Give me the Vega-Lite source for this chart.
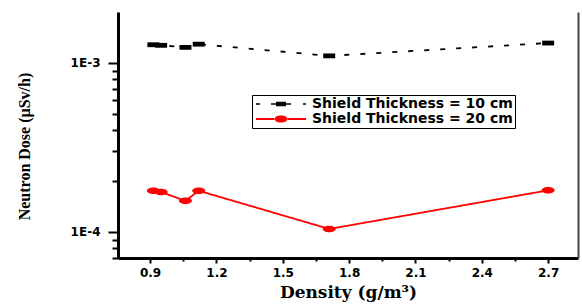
{
  "$schema": "https://vega.github.io/schema/vega-lite/v6.json",
  "width": 460,
  "height": 246,
  "autosize": {"type": "none"},
  "padding": {"left": 118, "top": 12, "right": 4, "bottom": 46},
  "background": "white",
  "config": {"view": {"stroke": null}},
  "data": {
    "values": [
      {"density": 0.915, "dose": 0.00128, "series": "Shield Thickness = 10 cm"},
      {"density": 0.95, "dose": 0.00127, "series": "Shield Thickness = 10 cm"},
      {"density": 1.06, "dose": 0.001235, "series": "Shield Thickness = 10 cm"},
      {"density": 1.12, "dose": 0.00129, "series": "Shield Thickness = 10 cm"},
      {"density": 1.71, "dose": 0.0011, "series": "Shield Thickness = 10 cm"},
      {"density": 2.7, "dose": 0.00131, "series": "Shield Thickness = 10 cm"},
      {"density": 0.915, "dose": 0.000175, "series": "Shield Thickness = 20 cm"},
      {"density": 0.95, "dose": 0.000172, "series": "Shield Thickness = 20 cm"},
      {"density": 1.06, "dose": 0.0001525, "series": "Shield Thickness = 20 cm"},
      {"density": 1.12, "dose": 0.000175, "series": "Shield Thickness = 20 cm"},
      {"density": 1.71, "dose": 0.000104, "series": "Shield Thickness = 20 cm"},
      {"density": 2.7, "dose": 0.000176, "series": "Shield Thickness = 20 cm"}
    ]
  },
  "encoding": {
    "x": {
      "field": "density",
      "type": "quantitative",
      "scale": {"domain": [0.755, 2.835], "nice": false, "zero": false},
      "axis": {
        "title": "Density (g/m³)",
        "titleFont": "DejaVu Serif",
        "titleFontWeight": "bold",
        "titleFontSize": 17,
        "titleColor": "#000",
        "titleBaseline": "middle",
        "titleY": 34,
        "values": [0.9, 1.05, 1.2, 1.35, 1.5, 1.65, 1.8, 1.95, 2.1, 2.25, 2.4, 2.55, 2.7],
        "labelExpr": "round(datum.value*100) % 30 == 0 ? format(datum.value, '.1f') : ''",
        "labelFont": "DejaVu Sans",
        "labelFontWeight": "bold",
        "labelFontSize": 12,
        "labelColor": "#000",
        "labelPadding": 4,
        "labelFlush": false,
        "labelOverlap": false,
        "domainColor": "#000",
        "domainWidth": 3,
        "tickColor": "#000",
        "tickWidth": 2,
        "tickSize": {"condition": {"test": "round(datum.value*100) % 30 == 0", "value": 5}, "value": 3},
        "grid": false
      }
    },
    "y": {
      "field": "dose",
      "type": "quantitative",
      "scale": {"type": "log", "domain": [0.00007, 0.002], "nice": false}
    }
  },
  "layer": [
    {
      "mark": {"type": "line", "strokeWidth": 1.8},
      "encoding": {
        "color": {
          "field": "series",
          "type": "nominal",
          "scale": {"domain": ["Shield Thickness = 10 cm", "Shield Thickness = 20 cm"], "range": ["#000000", "#ff0000"]},
          "legend": null
        },
        "strokeDash": {
          "field": "series",
          "type": "nominal",
          "scale": {"domain": ["Shield Thickness = 10 cm", "Shield Thickness = 20 cm"], "range": [[5, 11], [1, 0]]},
          "legend": null
        },
        "y": {
          "field": "dose",
          "type": "quantitative",
          "scale": {"type": "log", "domain": [0.00007, 0.002], "nice": false},
          "axis": {
            "orient": "left",
            "title": "Neutron Dose (µSv/h)",
            "titleFont": "Liberation Serif",
            "titleFontWeight": "bold",
            "titleFontSize": 16,
            "titleColor": "#000",
            "titleAngle": -90,
            "titleAlign": "center",
            "titleBaseline": "middle",
            "titleX": -94,
            "titleY": 134,
            "values": [0.00007, 0.00008, 0.00009, 0.0001, 0.0002, 0.0003, 0.0004, 0.0005, 0.0006, 0.0007, 0.0008, 0.0009, 0.001],
            "labelExpr": "abs(log(datum.value)/LN10 - round(log(datum.value)/LN10)) < 0.01 ? '1E' + round(log(datum.value)/LN10) : ''",
            "labelFont": "DejaVu Sans",
            "labelFontWeight": "bold",
            "labelFontSize": 12,
            "labelColor": "#000",
            "labelPadding": 8,
            "labelOverlap": false,
            "labelFlush": false,
            "domainColor": "#000",
            "domainWidth": 3,
            "tickColor": "#000",
            "tickWidth": 2,
            "tickSize": {"condition": {"test": "abs(log(datum.value)/LN10 - round(log(datum.value)/LN10)) < 0.01", "value": 10}, "value": 6},
            "grid": false
          }
        }
      }
    },
    {
      "mark": {"type": "point", "filled": true, "opacity": 1},
      "encoding": {
        "color": {
          "field": "series",
          "type": "nominal",
          "scale": {"domain": ["Shield Thickness = 10 cm", "Shield Thickness = 20 cm"], "range": ["#000000", "#ff0000"]},
          "legend": null
        },
        "shape": {
          "field": "series",
          "type": "nominal",
          "scale": {"domain": ["Shield Thickness = 10 cm", "Shield Thickness = 20 cm"], "range": ["M-1,-0.4L1,-0.4L1,0.4L-1,0.4Z", "M-1,0A1,0.5,0,1,0,1,0A1,0.5,0,1,0,-1,0Z"]},
          "legend": null
        },
        "size": {
          "field": "series",
          "type": "nominal",
          "scale": {"domain": ["Shield Thickness = 10 cm", "Shield Thickness = 20 cm"], "range": [144, 169]},
          "legend": null
        },
        "y": {
          "field": "dose",
          "type": "quantitative",
          "scale": {"type": "log", "domain": [0.00007, 0.002], "nice": false},
          "axis": {
            "orient": "right",
            "title": null,
            "labels": false,
            "ticks": false,
            "grid": false,
            "domainColor": "#444",
            "domainWidth": 2
          }
        }
      }
    },
    {
      "mark": {"type": "point", "filled": true, "opacity": 0},
      "encoding": {
        "color": {
          "field": "series",
          "type": "nominal",
          "scale": {"domain": ["Shield Thickness = 10 cm", "Shield Thickness = 20 cm"], "range": ["#000000", "#ff0000"]},
          "legend": {
            "title": null,
            "orient": "none",
            "legendX": 134,
            "legendY": 83,
            "padding": 2,
            "strokeColor": "#000",
            "fillColor": "#fff",
            "labelFont": "DejaVu Sans",
            "labelFontWeight": "bold",
            "labelFontSize": 14,
            "labelColor": "#000",
            "labelLimit": 0,
            "labelOffset": 44,
            "rowPadding": 1,
            "symbolSize": 100,
            "symbolOpacity": 1,
            "symbolStrokeWidth": 0
          }
        },
        "shape": {
          "field": "series",
          "type": "nominal",
          "scale": {"domain": ["Shield Thickness = 10 cm", "Shield Thickness = 20 cm"], "range": ["M-1,-0.15H-0.2V0.15H-1Z M2,-0.15H3V0.15H2Z M3,-0.45H5V0.45H3Z M5,-0.15H6V0.15H5Z M8.4,-0.15H9V0.15H8.4Z", "M-1,-0.2H2.8V0.2H-1Z M5.2,-0.2H9V0.2H5.2Z M2.7,0A1.3,0.7,0,1,0,5.3,0A1.3,0.7,0,1,0,2.7,0Z"]},
          "legend": {
            "title": null,
            "orient": "none",
            "legendX": 134,
            "legendY": 83,
            "padding": 2,
            "strokeColor": "#000",
            "fillColor": "#fff",
            "labelFont": "DejaVu Sans",
            "labelFontWeight": "bold",
            "labelFontSize": 14,
            "labelColor": "#000",
            "labelLimit": 0,
            "labelOffset": 44,
            "rowPadding": 1,
            "symbolSize": 100,
            "symbolOpacity": 1,
            "symbolStrokeWidth": 0
          }
        },
        "y": {
          "field": "dose",
          "type": "quantitative",
          "scale": {"type": "log", "domain": [0.00007, 0.002], "nice": false},
          "axis": null
        }
      }
    }
  ],
  "resolve": {
    "axis": {"y": "independent"},
    "scale": {"shape": "independent", "color": "independent"},
    "legend": {"shape": "independent", "color": "independent"}
  }
}
